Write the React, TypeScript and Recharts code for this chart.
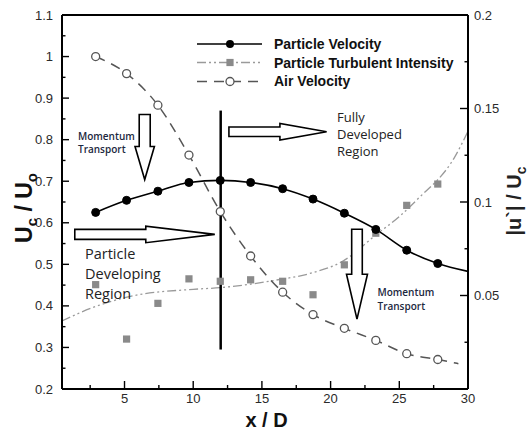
import React from 'react';
import { ComposedChart, Line, XAxis, YAxis, ReferenceLine, ReferenceDot } from 'recharts';

// ---------- data ----------
const stations = [2.9, 5.15, 7.43, 9.69, 11.97, 14.18, 16.51, 18.72, 21.0, 23.29, 25.54, 27.8];
const particleVelocity = [0.625, 0.654, 0.676, 0.697, 0.702, 0.697, 0.682, 0.657, 0.623, 0.584, 0.534, 0.502];
const particleVelocityEnd = [{ x: 30, y: 0.483 }];
const airVelocity = [1.0, 0.959, 0.883, 0.763, 0.627, 0.52, 0.433, 0.379, 0.346, 0.317, 0.285, 0.271];
const airVelocityEnd = [{ x: 29.3, y: 0.261 }];
const turbulentIntensity = [0.0558, 0.0267, 0.0458, 0.0589, 0.0576, 0.0584, 0.0576, 0.0504, 0.0664, 0.0833, 0.0982, 0.1096];
const turbFitX = [0.45, 2.7, 5.6, 10, 12, 16, 18.5, 20.9, 23.35, 25, 26.3, 29.06, 30];
const turbFitY = [0.0364, 0.0436, 0.0498, 0.0533, 0.0542, 0.0582, 0.0618, 0.0684, 0.0827, 0.0922, 0.1013, 0.1244, 0.1378];

const xMajorTicks = [5, 10, 15, 20, 25, 30];
const xMinorTicks = [2.5, 7.5, 12.5, 17.5, 22.5, 27.5];
const leftMajorTicks = [0.2, 0.3, 0.4, 0.5, 0.6, 0.7, 0.8, 0.9, 1, 1.1];
const leftMinorTicks = [0.25, 0.35, 0.45, 0.55, 0.65, 0.75, 0.85, 0.95, 1.05];
const rightMajorTicks = [0.05, 0.1, 0.15, 0.2];
const rightMinorTicks = [0, 0.025, 0.075, 0.125, 0.175];

const legendLabels = ['Particle Velocity', 'Particle Turbulent Intensity', 'Air Velocity'];

// annotation anchors (data coordinates of arrow tips)
const dividerX = 12;
const dividerRange = [0.295, 0.87];
const arrowsDown = [
  { x: 6.47, y: 0.704, L: 65, hl: 33, sw: 5.5, hw: 9.7 },
  { x: 21.92, y: 0.368, L: 90, hl: 45, sw: 5.3, hw: 10.5 },
];
const arrowsRight = [
  { x: 11.57, y: 0.572, L: 140, hl: 69, sw: 5, hw: 8.3 },
  { x: 19.71, y: 0.819, L: 97.7, hl: 46.7, sw: 4.7, hw: 8.3 },
];

// ---------- built series ----------
const pvPoints = stations.map((x, i) => ({ x, y: particleVelocity[i] }));
const pvCurve = [...pvPoints, ...particleVelocityEnd];
const airPoints = stations.map((x, i) => ({ x, y: airVelocity[i] }));
const airCurve = [...airPoints, ...airVelocityEnd];
const tiPoints = stations.map((x, i) => ({ x, y: turbulentIntensity[i] }));
const tiCurve = turbFitX.map((x, i) => ({ x, y: turbFitY[i] }));

const FONT = 'Liberation Sans, Arial, Helvetica, sans-serif';
const ANNO_FONT = 'Open Sans, Noto Sans, sans-serif';

const LEFT_M = 9;
const RIGHT_M = 6;
const BOTTOM_M = 4;

const near = (arr: number[], v: number) => arr.some((a) => Math.abs(a - v) < 1e-6);

function LeftTick(props: any) {
  const { x, y, payload } = props;
  const v = payload.value;
  const major = near(leftMajorTicks, v);
  const ax = x + LEFT_M;
  return (
    <g>
      <line x1={ax} x2={ax + (major ? 7 : 3.5)} y1={y} y2={y} stroke="#000" strokeWidth={1.4} />
      {major && (
        <text x={x} y={y} dy={4.6} textAnchor="end" fontSize={13} fontFamily={FONT} fill="#2a2a2a">
          {String(v)}
        </text>
      )}
    </g>
  );
}

function RightTick(props: any) {
  const { x, y, payload } = props;
  const v = payload.value;
  const major = near(rightMajorTicks, v);
  const ax = x - RIGHT_M;
  return (
    <g>
      <line x1={ax} x2={ax - (major ? 8 : 3.5)} y1={y} y2={y} stroke="#000" strokeWidth={1.4} />
      {major && (
        <text x={x} y={y} dy={4.6} textAnchor="start" fontSize={13} fontFamily={FONT} fill="#2a2a2a">
          {String(v)}
        </text>
      )}
    </g>
  );
}

function BottomTick(props: any) {
  const { x, y, payload } = props;
  const v = payload.value;
  const major = near(xMajorTicks, v);
  const ay = y - BOTTOM_M;
  return (
    <g>
      <line x1={x} x2={x} y1={ay} y2={ay - (major ? 8 : 4)} stroke="#000" strokeWidth={1.4} />
      {major && (
        <text x={x} y={y} dy={10} textAnchor="middle" fontSize={13} fontFamily={FONT} fill="#2a2a2a">
          {String(v)}
        </text>
      )}
    </g>
  );
}

function downArrow(a: any) {
  return (p: any) => {
    const { cx, cy } = p;
    const pts = [
      [cx - a.sw, cy - a.L],
      [cx + a.sw, cy - a.L],
      [cx + a.sw, cy - a.hl],
      [cx + a.hw, cy - a.hl],
      [cx, cy],
      [cx - a.hw, cy - a.hl],
      [cx - a.sw, cy - a.hl],
    ];
    return <polygon points={pts.map((q) => q.join(',')).join(' ')} fill="#fff" stroke="#000" strokeWidth={1.6} strokeLinejoin="miter" />;
  };
}

function rightArrow(a: any) {
  return (p: any) => {
    const { cx, cy } = p;
    const pts = [
      [cx - a.L, cy - a.sw],
      [cx - a.hl, cy - a.sw],
      [cx - a.hl, cy - a.hw],
      [cx, cy],
      [cx - a.hl, cy + a.hw],
      [cx - a.hl, cy + a.sw],
      [cx - a.L, cy + a.sw],
    ];
    return <polygon points={pts.map((q) => q.join(',')).join(' ')} fill="#fff" stroke="#000" strokeWidth={1.6} strokeLinejoin="miter" />;
  };
}

const squareDot = (p: any) => (
  <rect key={`sq-${p.index}`} x={p.cx - 3.6} y={p.cy - 3.6} width={7.2} height={7.2} fill="#8a8a8a" />
);

export default function App() {
  return (
    <div style={{ position: 'absolute', left: 0, top: 0, width: 528, height: 429, background: '#fff' }}>
      <ComposedChart width={528} height={429} margin={{ top: 15, right: 0, bottom: 0, left: 0 }}>
        <XAxis
          dataKey="x"
          type="number"
          domain={[0.45, 30]}
          ticks={[...xMinorTicks, ...xMajorTicks].sort((a, b) => a - b)}
          interval={0}
          tickSize={0}
          tickMargin={BOTTOM_M}
          height={40}
          axisLine={{ stroke: '#000', strokeWidth: 2 }}
          tick={(p: any) => <BottomTick {...p} />}
          allowDataOverflow
        />
        <YAxis
          yAxisId="left"
          type="number"
          domain={[0.2, 1.1]}
          ticks={[...leftMinorTicks, ...leftMajorTicks].sort((a, b) => a - b)}
          interval={0}
          width={62}
          tickSize={0}
          tickMargin={LEFT_M}
          axisLine={{ stroke: '#000', strokeWidth: 2 }}
          tick={(p: any) => <LeftTick {...p} />}
          allowDataOverflow
        />
        <YAxis
          yAxisId="right"
          orientation="right"
          type="number"
          domain={[0, 0.2]}
          ticks={[...rightMinorTicks, ...rightMajorTicks].sort((a, b) => a - b)}
          interval={0}
          width={60}
          tickSize={0}
          tickMargin={RIGHT_M}
          axisLine={{ stroke: '#000', strokeWidth: 2 }}
          tick={(p: any) => <RightTick {...p} />}
          allowDataOverflow
        />
        <ReferenceLine yAxisId="left" y={1.1} stroke="#000" strokeWidth={2} />

        <Line
          yAxisId="right"
          data={tiCurve}
          dataKey="y"
          type="monotone"
          stroke="#9a9a9a"
          strokeWidth={1.3}
          strokeDasharray="9 3 2 3 2 3"
          dot={false}
          activeDot={false}
          isAnimationActive={false}
        />
        <Line
          yAxisId="right"
          data={tiPoints}
          dataKey="y"
          stroke="none"
          dot={squareDot}
          activeDot={false}
          isAnimationActive={false}
        />
        <Line
          yAxisId="left"
          data={airCurve}
          dataKey="y"
          type="monotone"
          stroke="#555"
          strokeWidth={1.5}
          strokeDasharray="10 7"
          dot={false}
          activeDot={false}
          isAnimationActive={false}
        />
        <Line
          yAxisId="left"
          data={airPoints}
          dataKey="y"
          stroke="none"
          dot={{ r: 4, fill: '#fff', stroke: '#555', strokeWidth: 1.3 }}
          activeDot={false}
          isAnimationActive={false}
        />
        <Line
          yAxisId="left"
          data={pvCurve}
          dataKey="y"
          type="monotone"
          stroke="#000"
          strokeWidth={1.6}
          dot={false}
          activeDot={false}
          isAnimationActive={false}
        />
        <Line
          yAxisId="left"
          data={pvPoints}
          dataKey="y"
          stroke="none"
          dot={{ r: 4, fill: '#000', stroke: '#000', strokeWidth: 1 }}
          activeDot={false}
          isAnimationActive={false}
        />

        <ReferenceLine
          yAxisId="left"
          segment={[
            { x: dividerX, y: dividerRange[0] },
            { x: dividerX, y: dividerRange[1] },
          ]}
          stroke="#000"
          strokeWidth={2.5}
        />
        {arrowsDown.map((a, i) => (
          <ReferenceDot key={`ad${i}`} yAxisId="left" x={a.x} y={a.y} r={0} ifOverflow="visible" shape={downArrow(a)} />
        ))}
        {arrowsRight.map((a, i) => (
          <ReferenceDot key={`ar${i}`} yAxisId="left" x={a.x} y={a.y} r={0} ifOverflow="visible" shape={rightArrow(a)} />
        ))}
      </ComposedChart>

      <svg width={528} height={429} style={{ position: 'absolute', left: 0, top: 0, pointerEvents: 'none' }}>
        {/* legend */}
        <g>
          <line x1={197} x2={262} y1={44} y2={44} stroke="#000" strokeWidth={1.6} />
          <circle cx={230} cy={44} r={4} fill="#000" />
          <line x1={197} x2={262} y1={62.5} y2={62.5} stroke="#9a9a9a" strokeWidth={1.3} strokeDasharray="9 3 2 3 2 3" />
          <rect x={226.4} y={58.9} width={7.2} height={7.2} fill="#8a8a8a" />
          <line x1={197} x2={262} y1={81.5} y2={81.5} stroke="#555" strokeWidth={1.5} strokeDasharray="10 7" />
          <circle cx={230} cy={81.5} r={4} fill="#fff" stroke="#555" strokeWidth={1.3} />
          {legendLabels.map((t, i) => (
            <text key={t} x={274} y={49 + i * 18.7} fontSize={14} fontWeight="bold" fontFamily={FONT} fill="#111">
              {t}
            </text>
          ))}
        </g>

        {/* annotations */}
        <g fontFamily={ANNO_FONT} fill="#1c2840" fontSize={10} fontWeight={600}>
          <text x={78} y={139.5}>Momentum</text>
          <text x={78} y={153}>Transport</text>
          <text x={377.5} y={295.5}>Momentum</text>
          <text x={377.5} y={309.5}>Transport</text>
        </g>
        <g fontFamily={ANNO_FONT} fill="#222" fontSize={13}>
          <text x={337} y={122}>Fully</text>
          <text x={337} y={139}>Developed</text>
          <text x={337} y={156}>Region</text>
        </g>
        <g fontFamily={ANNO_FONT} fill="#222" fontSize={14.5}>
          <text x={85} y={258.5}>Particle</text>
          <text x={85} y={278.5}>Developing</text>
          <text x={85} y={298.5}>Region</text>
        </g>

        {/* axis titles */}
        <text x={266.5} y={426.5} textAnchor="middle" fontSize={20} fontWeight="bold" fontFamily={FONT} fill="#111">
          x / D
        </text>
        <text transform="translate(31.5,208) rotate(-90)" textAnchor="middle" fontSize={23} fontWeight="bold" fontFamily={FONT} fill="#111">
          U<tspan fontSize={15} dy={5}>c</tspan>
          <tspan dy={-5}> / U</tspan>
          <tspan fontSize={15} dy={5}>o</tspan>
        </text>
        <text transform="translate(520.5,201) rotate(-90)" textAnchor="middle" fontSize={20} fontWeight="bold" fontFamily={FONT} fill="#222">
          |u`| / U<tspan fontSize={14} dy={5}>c</tspan>
        </text>
      </svg>
    </div>
  );
}
